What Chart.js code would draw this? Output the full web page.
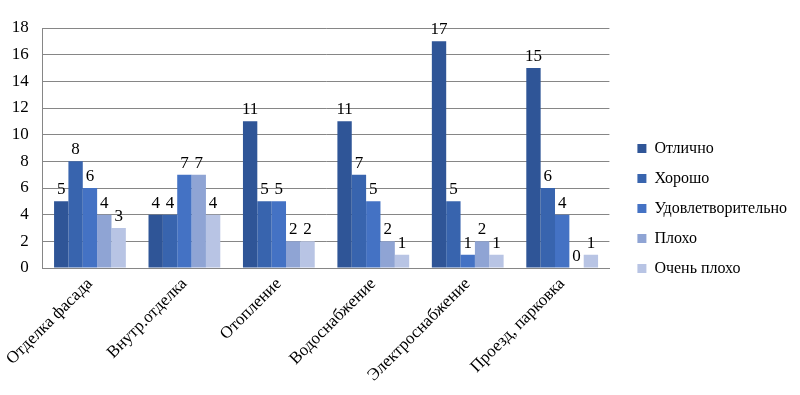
<!DOCTYPE html>
<html>
<head>
<meta charset="utf-8">
<script src="https://cdn.jsdelivr.net/npm/chart.js@4/dist/chart.umd.min.js"></script>
<style>
  html, body { margin: 0; padding: 0; background: #fff; }
  #wrap { width: 800px; height: 395px; position: relative; }
</style>
</head>
<body>
<div id="wrap"><canvas id="chart"></canvas></div>
<script>
var categories = ['Отделка фасада', 'Внутр.отделка', 'Отопление', 'Водоснабжение', 'Электроснабжение', 'Проезд, парковка'];
var seriesNames = ['Отлично', 'Хорошо', 'Удовлетворительно', 'Плохо', 'Очень плохо'];
var excellent = [5, 4, 11, 11, 17, 15];
var good = [8, 4, 5, 7, 5, 6];
var satisfactory = [6, 7, 5, 5, 1, 4];
var bad = [4, 7, 2, 2, 2, 0];
var veryBad = [3, 4, 2, 1, 1, 1];
var yTicks = [0, 2, 4, 6, 8, 10, 12, 14, 16, 18];

var colors = ['#2F5597', '#3864AE', '#4472C4', '#8FA4D4', '#B8C4E4'];
var serif = '"Liberation Serif", "DejaVu Serif", serif';

// value labels above the bars
var valueLabels = {
    id: 'valueLabels',
    afterDatasetsDraw: function (chart) {
        var ctx = chart.ctx;
        ctx.save();
        ctx.font = '17px ' + serif;
        ctx.fillStyle = '#000';
        ctx.textAlign = 'center';
        ctx.textBaseline = 'bottom';
        chart.data.datasets.forEach(function (ds, i) {
            chart.getDatasetMeta(i).data.forEach(function (bar, j) {
                ctx.fillText(ds.data[j], bar.x, bar.y - 3);
            });
        });
        ctx.restore();
    }
};

// push the legend a bit away from the plot
var legendGap = {
    id: 'legendGap',
    beforeInit: function (chart) {
        var lg = chart.legend;
        var fit = lg.fit;
        var draw = lg.draw;
        lg.fit = function () {
            fit.call(lg);
            lg.width += 17;
        };
        lg.draw = function () {
            var ctx = chart.ctx;
            ctx.save();
            ctx.translate(14, -3);
            draw.call(lg);
            ctx.restore();
        };
    }
};

var allSeries = [excellent, good, satisfactory, bad, veryBad];

new Chart(document.getElementById('chart'), {
    type: 'bar',
    data: {
        labels: categories,
        datasets: allSeries.map(function (d, i) {
            return {
                label: seriesNames[i],
                data: d,
                backgroundColor: colors[i],
                borderWidth: 0,
                categoryPercentage: 0.76,
                barPercentage: 1.0
            };
        })
    },
    options: {
        responsive: true,
        maintainAspectRatio: false,
        animation: false,
        layout: { padding: { top: 28, left: 0, right: 0, bottom: 0 } },
        plugins: {
            legend: {
                position: 'right',
                align: 'center',
                labels: {
                    boxWidth: 9,
                    boxHeight: 9,
                    padding: 14,
                    color: '#000',
                    font: { family: serif, size: 16 }
                }
            },
            tooltip: { enabled: false }
        },
        scales: {
            x: {
                grid: { display: false, drawTicks: false },
                border: { color: '#868686', width: 1 },
                ticks: {
                    color: '#000',
                    font: { family: serif, size: 17 },
                    minRotation: 45,
                    maxRotation: 45,
                    padding: 6
                },
                afterFit: function (scale) { scale.height = 127; }
            },
            y: {
                min: 0,
                max: 18,
                afterBuildTicks: function (scale) {
                    scale.ticks = yTicks.map(function (v) { return { value: v }; });
                },
                grid: { color: '#868686', drawTicks: false },
                border: { color: '#868686', width: 1 },
                ticks: {
                    color: '#000',
                    font: { family: serif, size: 17 },
                    padding: 14
                },
                afterFit: function (scale) { scale.width = 40; }
            }
        }
    },
    plugins: [valueLabels, legendGap]
});
</script>
</body>
</html>
